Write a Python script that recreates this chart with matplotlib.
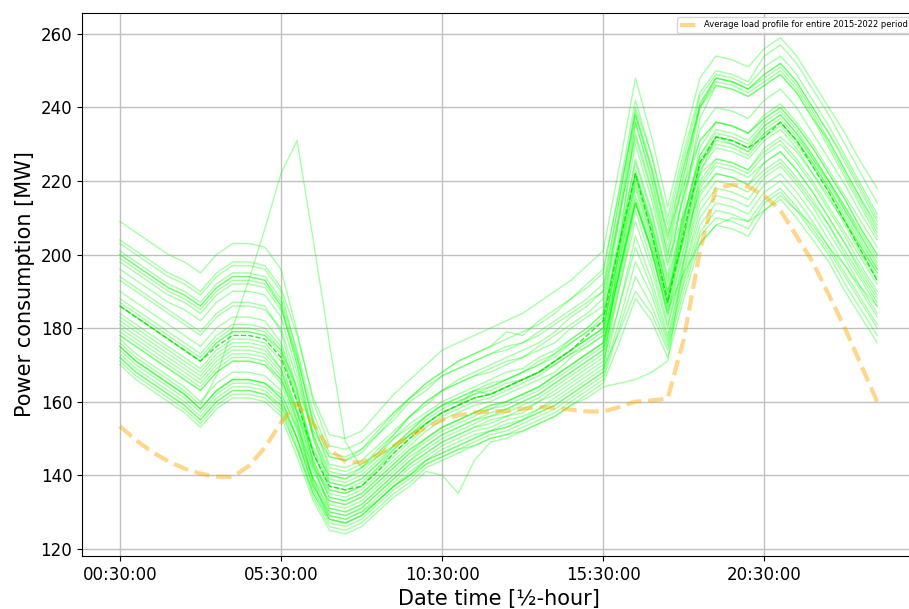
import matplotlib
matplotlib.use("Agg")
import matplotlib.pyplot as plt
import numpy as np
import pandas as pd

# half-hour time stamps of one day (00:30 ... 00:00)
times = pd.date_range("2022-01-01 00:30", periods=48, freq="30min").strftime("%H:%M:%S").tolist()
tick_idx = [0, 10, 20, 30, 40]

# daily load profiles [MW]
day_01 = [209,206,203,200,198,195,200,203,203,202,196,179,160,148,147,149,153,157,161,164,167,169,171,173,174,176,178,181,184,187,190,215,240,227,210,228,244,250,249,247,254,257,252,245,238,230,222,214]
day_02 = [204,201,198,195,193,190,195,198,198,197,191,178,161,151,150,152,157,162,166,170,174,176,178,180,182,184,187,190,193,197,201,224,248,232,213,231,248,254,253,251,256,259,254,247,240,233,225,218]
day_03 = [201,198,195,192,190,187,192,195,195,194,188,174,157,146,145,147,152,157,161,165,168,171,173,175,177,179,181,184,188,191,195,218,242,227,208,226,243,249,248,246,251,254,249,242,235,227,219,211]
day_04 = [200,197,194,191,189,186,191,194,194,193,187,172,154,143,142,144,148,152,156,160,163,165,167,168,170,172,174,176,180,183,186,212,238,223,204,224,241,248,247,245,249,252,247,240,233,225,217,209]
day_05 = [199,196,193,190,188,185,190,193,193,192,186,170,151,140,139,141,145,150,154,157,160,162,164,166,168,169,172,174,177,180,184,210,236,221,202,222,240,247,246,244,247,250,245,238,230,222,214,206]
day_06 = [198,195,192,189,187,184,189,192,192,191,185,172,155,145,144,146,151,155,160,163,167,169,171,173,175,176,179,182,185,188,192,215,239,224,206,224,240,246,245,243,246,249,244,237,231,223,215,208]
day_07 = [196,193,190,187,185,182,187,190,190,189,183,168,150,139,138,140,144,148,152,156,159,161,163,164,166,168,170,172,176,179,182,206,230,215,197,216,234,240,239,237,242,245,240,233,226,219,211,204]
day_08 = [193,190,187,184,181,178,183,186,186,185,180,166,151,141,140,142,147,151,156,159,163,165,167,169,171,172,175,178,181,184,188,210,233,218,200,216,231,236,235,233,238,241,236,230,223,216,209,202]
day_09 = [190,187,184,181,178,175,180,183,183,182,176,163,146,136,135,137,141,145,149,153,156,158,160,161,163,165,167,170,173,176,179,201,223,209,192,210,227,233,232,230,235,238,233,227,220,213,205,198]
day_10 = [188,185,182,179,176,173,178,181,181,180,175,162,147,138,137,139,143,148,152,156,159,161,163,165,166,168,170,173,176,179,183,204,225,211,193,211,226,232,231,229,234,237,232,226,220,213,206,199]
day_11 = [187,184,181,178,175,172,177,180,180,179,174,160,144,134,133,135,139,143,147,150,153,155,157,159,160,162,164,167,170,173,176,198,221,207,189,208,225,231,230,228,233,236,231,225,218,211,203,196]
day_12 = [186,183,180,177,174,171,176,179,179,178,173,161,146,137,136,138,142,146,150,154,157,159,161,162,164,166,168,171,174,177,180,201,222,208,190,210,227,234,233,231,236,239,234,227,220,212,205,197]
day_13 = [184,181,178,175,172,169,174,177,177,176,171,157,142,132,131,133,137,141,145,148,151,153,155,157,158,160,162,165,168,171,174,195,216,203,186,205,223,229,228,226,231,234,229,222,216,208,200,193]
day_14 = [182,179,176,173,170,167,172,175,175,174,169,158,144,135,134,136,140,144,148,152,155,157,159,160,162,164,166,168,172,175,178,198,219,205,188,205,220,226,225,223,228,231,226,220,213,206,199,192]
day_15 = [180,177,174,171,168,165,170,173,173,172,167,154,139,130,129,131,135,139,143,146,149,151,153,155,156,158,160,163,166,169,172,193,214,201,184,202,219,225,224,222,227,230,225,219,212,205,197,190]
day_16 = [179,176,173,170,167,164,169,172,172,171,166,155,141,133,132,134,138,142,146,149,152,154,156,158,159,161,163,166,169,172,175,195,215,201,183,201,218,224,223,221,225,228,223,217,210,203,196,189]
day_17 = [178,175,172,169,166,163,168,171,171,170,165,153,138,129,128,130,134,138,142,145,148,150,152,153,155,156,158,161,164,167,170,191,212,198,181,199,216,222,221,219,223,226,221,215,208,201,194,187]
day_18 = [177,173,170,167,164,160,165,168,168,167,163,152,139,131,130,132,136,140,144,147,150,152,154,156,157,159,161,164,167,170,173,191,209,196,180,198,214,220,219,217,222,225,220,214,208,200,193,186]
day_19 = [175,171,168,165,162,158,163,166,166,165,161,150,136,128,127,129,133,137,140,144,146,148,150,152,153,155,157,159,162,165,168,186,205,193,178,196,212,218,217,215,221,224,219,213,206,199,191,184]
day_20 = [174,170,167,164,161,157,162,165,165,164,160,150,137,130,129,131,135,139,143,146,149,151,153,154,156,157,160,162,165,168,171,186,202,191,177,195,210,216,215,213,219,222,217,211,204,197,190,183]
day_21 = [173,169,166,163,160,156,161,164,164,163,159,148,135,127,126,128,132,136,139,143,145,147,149,151,152,154,156,158,161,164,167,182,198,189,176,193,208,214,213,211,217,220,215,209,202,195,188,181]
day_22 = [172,168,165,162,159,155,160,163,163,162,158,147,134,126,125,127,131,135,138,142,144,146,148,150,151,153,155,157,160,163,166,180,194,186,175,192,206,212,211,209,215,218,213,207,201,194,187,180]
day_23 = [171,167,164,161,158,154,159,162,162,161,157,147,135,128,127,129,133,137,141,144,147,149,151,152,154,155,158,160,163,166,169,179,190,184,174,190,205,210,209,207,214,217,212,206,200,192,185,178]
day_24 = [170,166,163,160,157,153,158,161,161,160,156,145,133,125,124,126,130,134,137,141,140,135,144,149,150,152,154,156,159,162,165,176,188,182,172,188,203,208,207,205,212,215,210,204,198,190,183,176]
day_25 = [176,172,169,166,163,159,167,180,193,207,222,231,204,176,149,142,145,148,151,154,157,159,161,162,164,166,168,171,174,177,180,200,220,206,188,207,225,230,229,227,232,235,230,224,217,209,201,194]
day_26 = [175,171,168,165,162,158,163,166,166,165,161,150,137,129,128,130,133,137,140,143,145,147,148,150,151,152,154,156,159,161,164,165,166,168,171,198,222,232,230,228,233,236,231,225,218,210,202,195]
day_27 = [181,178,175,172,169,166,171,174,174,173,168,157,143,134,133,135,139,143,147,150,153,155,157,159,160,162,164,167,170,173,176,195,214,201,185,195,203,208,210,209,212,216,212,208,202,197,191,186]
day_28 = [200,197,194,191,189,186,191,194,194,193,186,170,150,138,137,139,143,147,151,154,157,159,163,162,164,166,168,171,174,177,180,203,226,212,194,218,240,248,247,245,248,251,246,239,231,223,215,207]
day_29 = [186,183,180,177,174,171,176,179,179,178,174,164,152,145,144,147,151,156,161,165,168,171,173,175,179,178,182,185,188,192,196,217,238,223,205,219,231,236,235,233,237,240,235,229,222,215,207,200]
day_30 = [178,175,172,169,166,163,168,171,171,170,166,157,147,140,139,142,146,151,156,160,163,166,168,170,172,174,176,179,183,186,190,211,232,217,198,211,222,226,225,223,229,232,228,222,215,209,202,195]
day_31 = [194,191,188,185,182,179,184,187,187,186,179,163,143,131,130,132,136,140,144,148,151,153,155,156,158,160,162,165,168,171,174,196,218,204,186,213,237,246,245,243,246,249,244,237,229,221,213,205]
day_32 = [175,171,168,165,162,158,163,166,166,165,162,153,142,136,135,137,142,147,151,155,158,160,162,164,166,168,171,173,177,180,184,203,222,208,190,204,217,222,221,219,225,228,223,217,210,203,195,188]
day_33 = [203,200,197,194,192,189,194,197,197,196,190,173,154,142,141,143,146,150,153,156,159,160,162,163,165,166,168,170,173,175,178,196,214,202,187,209,229,236,235,233,237,240,235,229,222,215,207,200]
day_34 = [183,180,177,174,171,168,173,176,176,175,169,155,138,128,127,129,133,137,140,144,146,148,150,152,153,155,157,159,162,165,168,202,236,220,200,221,241,248,247,245,249,252,247,240,233,226,218,210]
day_35 = [172,168,165,162,159,155,160,163,163,162,159,150,139,133,132,134,138,142,146,150,153,155,157,158,160,162,164,167,170,173,176,195,214,201,184,205,224,232,231,229,235,238,233,226,219,212,204,196]

days = [day_01, day_02, day_03, day_04, day_05, day_06, day_07, day_08, day_09,
        day_10, day_11, day_12, day_13, day_14, day_15, day_16, day_17, day_18,
        day_19, day_20, day_21, day_22, day_23, day_24, day_25, day_26, day_27,
        day_28, day_29, day_30, day_31, day_32, day_33, day_34, day_35]

# mean of the plotted days (green dashed)
days_mean = [186,183,180,177,174,171,175,178,178,177,172,160,146,137,136,137,141,146,150,154,157,159,161,162,164,166,168,171,174,178,182,203,222,206,187,206,225,232,231,229,232,236,231,224,217,209,201,193]

# average load profile 2015-2022 (orange dashed)
avg_profile = [153.3,149.5,146.3,143.8,141.8,140.4,139.6,139.5,142.5,147.5,
               154.3,159.5,154,147,143.7,143.4,145.5,148,150.5,153,
               155,156.3,157,157.3,157.5,158,158.5,158.3,157.8,157.3,
               157.3,158.5,160,160.3,160.8,177,201,218,219,218.5,
               216,212,205,198,189,180,170,160]

x = np.arange(len(times))

fig = plt.figure(figsize=(9.09, 6.09), dpi=100)
ax = fig.add_axes([0.0902, 0.087, 0.9164, 0.8917])

for d in days:
    ax.plot(x, d, color='lime', alpha=0.35, linewidth=1)
ax.plot(x, days_mean, color='#00dd00', linestyle='--', linewidth=1, alpha=0.8)
ax.plot(x, avg_profile, color='orange', linestyle='--', linewidth=3, alpha=0.45,
        label='Average load profile for entire 2015-2022 period')

ax.set_xlim(-2.35, 49.35)
ax.set_ylim(118, 265.7)
ax.set_xticks(tick_idx)
ax.set_xticklabels([times[i] for i in tick_idx])
ax.tick_params(labelsize=12)
ax.set_xlabel("Date time [½-hour]", fontsize=15)
ax.set_ylabel("Power consumption [MW]", fontsize=15)
ax.grid(True, color='#c0c0c0', linewidth=1)
ax.legend(loc='upper right', fontsize=6)

fig.savefig("out.png", dpi=100)
plt.close()
